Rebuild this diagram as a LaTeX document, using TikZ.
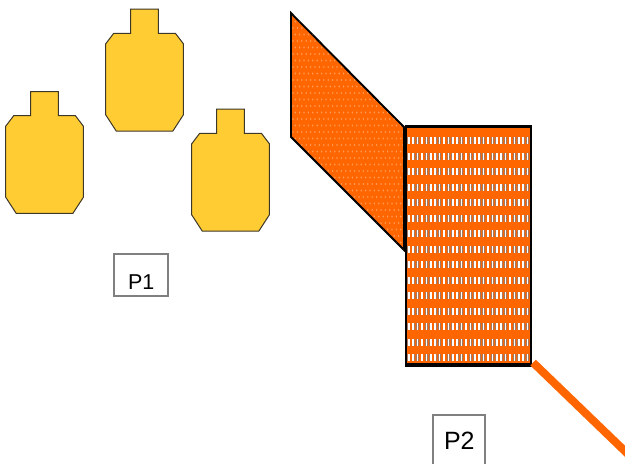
\documentclass[tikz,border=0pt]{standalone}
\usepackage{fontspec}
\setmainfont{Liberation Sans}
\usetikzlibrary{calc}
\definecolor{targetyellow}{RGB}{255,204,51}
\definecolor{targetedge}{RGB}{60,55,40}
\definecolor{hotorange}{RGB}{255,102,0}
\definecolor{dotorange}{RGB}{255,155,85}
\definecolor{slotgray}{RGB}{165,120,95}
\definecolor{boxgray}{RGB}{128,128,128}
\begin{document}
\begin{tikzpicture}[x=1pt,y=-1pt,
  target/.style={fill=targetyellow, draw=targetedge, line width=1pt, line join=miter},
  panel/.style={fill=hotorange, draw=black, line width=1.8pt, line join=miter},
  screen/.style={fill=hotorange, draw=black, line width=1.2pt, inner sep=0pt},
  wire/.style={draw=hotorange, line width=8pt},
  labelbox/.style={draw=boxgray, line width=1.8pt, fill=white, inner sep=0pt, text depth=0pt},
  silhouette/.pic={
    \path[target] (0,10.5) -- (8,0) -- (25,0) -- (25,-24.2) -- (52.7,-24.2)
      -- (52.7,0) -- (69.7,0) -- (77.7,10.5) -- (77.7,81.5) -- (67.2,97.7)
      -- (10.5,97.7) -- (0,81.5) -- cycle;
  }]
\useasboundingbox (0,0) rectangle (625,464);
\clip (0,0) rectangle (625,464);

% three silhouette targets
\pic (tleft) at (5.7,115.7) {silhouette};
\pic (tmid) at (105.7,33.3) {silhouette};
\pic (tright) at (191.7,133.3) {silhouette};

% slanted dotted panel
\coordinate (pa) at (291,13);
\coordinate (pb) at (404,127);
\coordinate (pc) at (404,250);
\coordinate (pd) at (291,137);
\path[panel] (pa) -- (pb) -- (pc) -- (pd) -- cycle;
\begin{scope}
  \clip (pa) -- (pb) -- (pc) -- (pd) -- cycle;
  \foreach \r in {0,...,37}
    \foreach \c in {0,...,26}
      \fill[dotorange] ({293+\c*4.4+mod(\r,2)*2.2},{15+\r*6.5}) ellipse (0.75 and 1.2);
  \path[draw=black, line width=1.8pt] (pa) -- (pb) -- (pc) -- (pd) -- cycle;
\end{scope}

% slotted screen
\node[screen, minimum width=124.2pt, minimum height=240pt] (screen) at (468.4,246) {};
\foreach \r in {0,...,14}
  \foreach \c in {0,...,27} {
    \fill[slotgray] ({408.8+\c*4.4-1.4},{140.7+\r*15.5-3.7}) rectangle ++(2.8,7.4);
    \fill[white] ({408.8+\c*4.4-0.85},{140.7+\r*15.5-3.3}) rectangle ++(1.7,6.6);
  }
\draw[black, line width=2.6pt] ($(screen.north west)+(0,1.3)$) -- ($(screen.north east)+(0,1.3)$);
\draw[black, line width=3.6pt] ($(screen.south west)+(0,-1.8)$) -- ($(screen.south east)+(0,-1.8)$);
\draw[black, line width=1.2pt] (screen.north west) rectangle (screen.south east);

% outgoing strip
\coordinate (wend) at (640,465.7);
\draw[wire] ($(screen.south east)+(2,-4)$) -- (wend);

% labels
\node[labelbox, minimum width=54pt, minimum height=41.4pt, text height=28pt,
  font=\fontsize{21.5}{24}\selectfont] (p1) at (141.3,275) {P1};
\node[labelbox, minimum width=52pt, minimum height=52pt, text height=17.9pt,
  font=\fontsize{25}{28}\selectfont] (p2) at (459.3,440.7) {P2};
\end{tikzpicture}
\end{document}
